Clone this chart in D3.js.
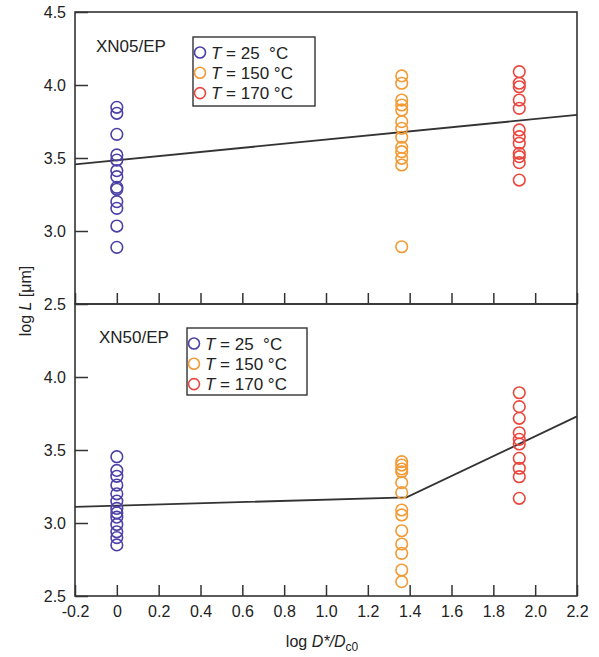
<!DOCTYPE html>
<html>
<head>
<meta charset="utf-8">
<script src="https://cdn.jsdelivr.net/npm/d3@7"></script>
<style>
  html, body { margin: 0; padding: 0; background: #fff; }
  svg { display: block; font-family: "Liberation Sans", Arial, sans-serif; }
</style>
</head>
<body>
<svg id="chart" width="599" height="657"></svg>
<script>
// x positions of the three temperature groups (log D*/Dc0)
const groupX = { t25: 0, t150: 1.362, t170: 1.924 };

// XN05/EP — log L values per temperature
const xn05_t25  = [3.847, 3.806, 3.662, 3.521, 3.486, 3.413, 3.372, 3.299, 3.286, 3.201, 3.155, 3.034, 2.888];
const xn05_t150 = [4.062, 4.012, 3.897, 3.863, 3.829, 3.749, 3.703, 3.642, 3.573, 3.543, 3.498, 3.452, 2.892];
const xn05_t170 = [4.091, 4.012, 3.988, 3.897, 3.840, 3.692, 3.646, 3.601, 3.532, 3.509, 3.468, 3.349];

// XN50/EP — log L values per temperature
const xn50_t25  = [3.454, 3.360, 3.320, 3.260, 3.200, 3.150, 3.100, 3.070, 3.040, 2.990, 2.940, 2.900, 2.850];
const xn50_t150 = [3.420, 3.397, 3.370, 3.351, 3.276, 3.208, 3.089, 3.055, 2.947, 2.856, 2.792, 2.678, 2.598];
const xn50_t170 = [3.892, 3.797, 3.717, 3.618, 3.573, 3.541, 3.443, 3.375, 3.317, 3.169];

// fitted trend lines [log D*/Dc0, log L]
const xn05_fit = [[-0.2, 3.457], [2.2, 3.795]];
const xn50_fit = [[-0.2, 3.110], [1.385, 3.176], [2.2, 3.730]];

// axis ticks
const xTicks = [-0.2, 0, 0.2, 0.4, 0.6, 0.8, 1.0, 1.2, 1.4, 1.6, 1.8, 2.0, 2.2];
const yTicksTop = [2.5, 3.0, 3.5, 4.0, 4.5];
const yTicksBottom = [2.5, 3.0, 3.5, 4.0];

const legendLabels = ["25  °C", "150 °C", "170 °C"];
const colors = { t25: "#4b41a6", t150: "#f39a35", t170: "#ea463d" };

const svg = d3.select("#chart");
const x = d3.scaleLinear().domain([-0.2, 2.2]).range([75, 577]);

const panels = [
  { name: "XN05/EP", y: d3.scaleLinear().domain([2.5, 4.5]).range([304, 12]),
    data: { t25: xn05_t25, t150: xn05_t150, t170: xn05_t170 }, fit: xn05_fit,
    yTicks: yTicksTop, xLabels: false, labelPos: [96, 52], legend: [193, 37, 122, 69] },
  { name: "XN50/EP", y: d3.scaleLinear().domain([2.5, 4.5]).range([596, 304]),
    data: { t25: xn50_t25, t150: xn50_t150, t170: xn50_t170 }, fit: xn50_fit,
    yTicks: yTicksBottom, xLabels: true, labelPos: [99, 343], legend: [187, 328, 120, 67] }
];

const fmt = d => d === 0 ? "0" : (d < 0 ? "-" : "") + d3.format(".1f")(Math.abs(d));

panels.forEach(p => {
  const y = p.y;
  const g = svg.append("g");

  // fitted line
  g.append("path")
    .datum(p.fit)
    .attr("d", d3.line().x(d => x(d[0])).y(d => y(d[1])))
    .attr("fill", "none").attr("stroke", "#333").attr("stroke-width", 1.8);

  // data circles
  ["t25", "t150", "t170"].forEach(k => {
    g.append("g").selectAll("circle")
      .data(p.data[k]).join("circle")
      .attr("cx", x(groupX[k]))
      .attr("cy", d => y(d))
      .attr("r", 5.8)
      .attr("fill", "none")
      .attr("stroke", colors[k])
      .attr("stroke-width", 1.6);
  });

  // x axis (inward ticks)
  const xa = g.append("g")
    .attr("transform", `translate(0,${y.range()[0]})`)
    .call(d3.axisBottom(x).tickValues(xTicks).tickSize(-11).tickPadding(10)
      .tickFormat(p.xLabels ? fmt : ""));
  xa.select(".domain").remove();

  // y axis (inward ticks)
  const ya = g.append("g")
    .attr("transform", `translate(${x.range()[0]},0)`)
    .call(d3.axisLeft(y).tickValues(p.yTicks).tickSize(-13).tickPadding(9)
      .tickFormat(d3.format(".1f")));
  ya.select(".domain").remove();

  [xa, ya].forEach(a => {
    a.selectAll("line").attr("stroke", "#333").attr("stroke-width", 1.5);
    a.selectAll("text").attr("font-size", 16).attr("fill", "#222")
      .attr("font-family", "Liberation Sans, Arial, sans-serif");
  });

  // panel frame
  g.append("rect")
    .attr("x", x.range()[0]).attr("y", y.range()[1])
    .attr("width", x.range()[1] - x.range()[0])
    .attr("height", y.range()[0] - y.range()[1])
    .attr("fill", "none").attr("stroke", "#333").attr("stroke-width", 1.6);

  // panel label
  g.append("text")
    .attr("x", p.labelPos[0]).attr("y", p.labelPos[1])
    .attr("font-size", 17).attr("fill", "#222")
    .text(p.name);

  // legend
  const [lx, ly, lw, lh] = p.legend;
  const lg = g.append("g");
  lg.append("rect")
    .attr("x", lx).attr("y", ly).attr("width", lw).attr("height", lh)
    .attr("fill", "#fff").attr("stroke", "#333").attr("stroke-width", 1.4);
  ["t25", "t150", "t170"].forEach((k, i) => {
    const cy = ly + 15.5 + i * 20.3;
    lg.append("circle")
      .attr("cx", lx + 7).attr("cy", cy).attr("r", 5.5)
      .attr("fill", "none").attr("stroke", colors[k]).attr("stroke-width", 1.6);
    const t = lg.append("text")
      .attr("x", lx + 18).attr("y", cy + 6)
      .attr("font-size", 17).attr("fill", "#222")
      .style("white-space", "pre");
    t.append("tspan").attr("font-style", "italic").text("T");
    t.append("tspan").text(" = " + legendLabels[i]);
  });
});

// axis titles
const xt = svg.append("text")
  .attr("x", 322).attr("y", 647)
  .attr("text-anchor", "middle")
  .attr("font-size", 16).attr("fill", "#222");
xt.append("tspan").text("log ");
xt.append("tspan").attr("font-style", "italic").text("D*/D");
xt.append("tspan").attr("font-size", 12).attr("dy", 4).text("c0");

const yt = svg.append("text")
  .attr("transform", "translate(31,301) rotate(-90)")
  .attr("text-anchor", "middle")
  .attr("font-size", 16).attr("fill", "#222");
yt.append("tspan").text("log ");
yt.append("tspan").attr("font-style", "italic").text("L");
yt.append("tspan").text(" [μm]");
</script>
</body>
</html>
